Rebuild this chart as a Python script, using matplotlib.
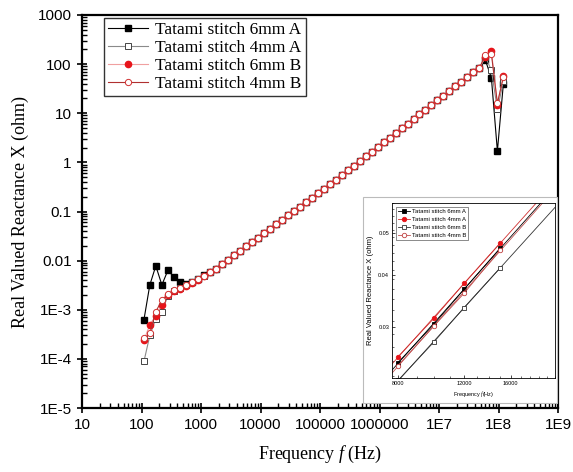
import numpy as np
import matplotlib
matplotlib.use("Agg")
import matplotlib.pyplot as plt
from matplotlib.ticker import LogLocator, NullFormatter, FixedLocator
from matplotlib.patches import Rectangle

plt.rcParams['mathtext.fontset'] = 'custom'
plt.rcParams['mathtext.it'] = 'Liberation Serif:italic'
plt.rcParams['mathtext.rm'] = 'Liberation Serif'

# ---------------- data ----------------
freq = [110, 138, 174, 220, 277, 350, 441, 556, 701, 884,
        1110, 1410, 1770, 2230, 2820, 3550, 4480, 5650, 7130, 8980,
        11300, 14300, 18000, 22700, 28600, 36100, 45500, 57400, 72400, 91300,
        115000, 145000, 183000, 231000, 291000, 367000, 463000, 584000, 736000, 928000,
        1.17e6, 1.475e6, 1.86e6, 2.35e6, 2.96e6, 3.73e6, 4.70e6, 5.93e6, 7.48e6, 9.43e6,
        1.189e7, 1.499e7, 1.890e7, 2.384e7, 3.006e7, 3.790e7, 4.779e7, 6.027e7, 7.600e7,
        9.58e7, 1.208e8]

# low-frequency part (first 12 points), per series
head_6mmA = [6.3e-4, 3.2e-3, 7.8e-3, 3.2e-3, 6.3e-3, 4.7e-3, 3.6e-3, 3.3e-3, 3.7e-3, 4.3e-3, 5.0e-3, 5.9e-3]
head_4mmA = [8.9e-5, 3.0e-4, 6.6e-4, 9.2e-4, 1.9e-3, 2.4e-3, 2.8e-3, 3.2e-3, 3.6e-3, 4.2e-3, 4.9e-3, 5.8e-3]
head_6mmB = [2.37e-4, 5.0e-4, 7.6e-4, 1.26e-3, 1.96e-3, 2.36e-3, 2.7e-3, 3.1e-3, 3.5e-3, 4.1e-3, 4.8e-3, 5.8e-3]
head_4mmB = [2.6e-4, 3.3e-4, 9.2e-4, 1.55e-3, 2.1e-3, 2.5e-3, 2.8e-3, 3.2e-3, 3.6e-3, 4.2e-3, 4.9e-3, 5.8e-3]

# common middle part (all four series overlap)
mid_common = [0.0069, 0.0085, 0.0105, 0.0129, 0.0158, 0.0195, 0.024, 0.0295, 0.0363, 0.0447,
              0.055, 0.0676, 0.0832, 0.102, 0.126, 0.155, 0.191, 0.234, 0.288, 0.355,
              0.442, 0.55, 0.684, 0.851, 1.06, 1.32, 1.64, 2.04, 2.54, 3.16,
              3.94, 4.90, 6.10, 7.59, 9.44, 11.7, 14.6, 18.2, 22.6, 28.2,
              35.1, 43.7, 54.3, 67.6, 84.1]

# resonance part (last 4 points), per series
tail_6mmA = [120, 52, 1.7, 40]
tail_4mmA = [140, 75, 12, 45]
tail_6mmB = [140, 185, 15, 57]
tail_4mmB = [150, 160, 16, 55]

x_ticks = [10, 100, 1000, 10000, 100000, 1000000, 1e7, 1e8, 1e9]
x_labels = ["10", "100", "1000", "10000", "100000", "1000000", "1E7", "1E8", "1E9"]
y_ticks = [1e-5, 1e-4, 1e-3, 0.01, 0.1, 1, 10, 100, 1000]
y_labels = ["1E-5", "1E-4", "1E-3", "0.01", "0.1", "1", "10", "100", "1000"]

# inset data
ins_freq = [8000, 10000, 12000, 15000]
ins_6mmA = [0.0248, 0.0306, 0.0369, 0.0462]
ins_4mmA = [0.0256, 0.0316, 0.0381, 0.0475]
ins_6mmB = [0.0225, 0.0278, 0.0334, 0.0415]
ins_4mmB = [0.0244, 0.0303, 0.0361, 0.0458]

# ---------------- figure ----------------
fig = plt.figure(figsize=(5.73, 4.72), dpi=100)
ax = fig.add_axes([82/573, 1-408/472, (558-82)/573, (408-15)/472])

serif = ["Liberation Serif", "DejaVu Serif"]
sans = ["Liberation Sans", "DejaVu Sans"]

s6A = head_6mmA + mid_common + tail_6mmA
s4A = head_4mmA + mid_common + tail_4mmA
s6B = head_6mmB + mid_common + tail_6mmB
s4B = head_4mmB + mid_common + tail_4mmB

ax.plot(freq, s6A, '-', color='black', lw=0.8, marker='s', ms=4,
        mfc='black', mec='black', label='Tatami stitch 6mm A', zorder=3)
ax.plot(freq, s4A, '-', color='#8a8a8a', lw=0.8, marker='s', ms=4,
        mfc='white', mec='#444444', mew=0.7, label='Tatami stitch 4mm A', zorder=3)
ax.plot(freq, s6B, '-', color='#f0a0a0', lw=0.8, marker='o', ms=4.5,
        mfc='#e8141a', mec='#e8141a', label='Tatami stitch 6mm B', zorder=4)
ax.plot(freq, s4B, '-', color='#b03030', lw=0.8, marker='o', ms=4.5,
        mfc='white', mec='#d03030', mew=0.7, label='Tatami stitch 4mm B', zorder=5)

ax.set_xscale('log')
ax.set_yscale('log')
ax.set_xlim(10, 1e9)
ax.set_ylim(1e-5, 1000)
ax.set_xticks(x_ticks)
ax.set_xticklabels(x_labels, fontfamily=sans, fontsize=11)
ax.set_yticks(y_ticks)
ax.set_yticklabels(y_labels, fontfamily=sans, fontsize=11)
ax.xaxis.set_minor_locator(LogLocator(base=10, subs=np.arange(2, 10), numticks=100))
ax.yaxis.set_minor_locator(LogLocator(base=10, subs=np.arange(2, 10), numticks=100))
ax.xaxis.set_minor_formatter(NullFormatter())
ax.yaxis.set_minor_formatter(NullFormatter())
ax.tick_params(which='major', direction='inout', length=7, width=1.2, pad=4)
ax.tick_params(which='minor', direction='in', length=3.5, width=1.0)
for sp in ax.spines.values():
    sp.set_linewidth(1.6)

ax.set_xlabel("Frequency $f$ (Hz)", fontfamily=serif, fontsize=13, labelpad=8)
ax.set_ylabel("Real Valued Reactance X (ohm)", fontfamily=serif, fontsize=13, labelpad=6)

leg = ax.legend(loc='upper left', bbox_to_anchor=(0.04, 1.0), prop={'family': serif, 'size': 12.5},
                frameon=True, fancybox=False, borderpad=0.25, labelspacing=0.1,
                handlelength=2.3, handletextpad=0.4, borderaxespad=0.15)
leg.get_frame().set_edgecolor('black')
leg.get_frame().set_linewidth(1.0)

# ---------------- inset ----------------
fig.patches.append(Rectangle((363/573, 1-403/472), (557-363)/573, (403-197)/472,
                             transform=fig.transFigure, fill=True, facecolor='white',
                             edgecolor='#bbbbbb', lw=0.8, zorder=5))
iax = fig.add_axes([392/573, 1-378/472, (555-392)/573, (378-203)/472], zorder=6)
iax.set_xscale('log')
iax.set_yscale('log')
xl = (7710, 21000)
iax.set_xlim(*xl)
iax.set_ylim(0.0228, 0.059)

styles = [
    (ins_6mmA, dict(color='black', marker='s', mfc='black', mec='black'), 'Tatami stitch 6mm A'),
    (ins_4mmA, dict(color='#d03030', marker='o', mfc='#e8141a', mec='#e8141a'), 'Tatami stitch 4mm A'),
    (ins_6mmB, dict(color='#333333', marker='s', mfc='white', mec='#333333'), 'Tatami stitch 6mm B'),
    (ins_4mmB, dict(color='#c05050', marker='o', mfc='white', mec='#c04040'), 'Tatami stitch 4mm B'),
]
xs = np.array(xl)
for vals, st, lab in styles:
    p = np.polyfit(np.log10(ins_freq), np.log10(vals), 1)
    iax.plot(xs, 10**np.polyval(p, np.log10(xs)), '-', color=st['color'], lw=0.6)
    iax.plot(ins_freq, vals, linestyle='-', lw=0.6, color=st['color'], marker=st['marker'],
             ms=3.2, mfc=st['mfc'], mec=st['mec'], mew=0.6, label=lab)

iax.set_xticks([8000, 12000, 16000])
iax.set_xticklabels(["8000", "12000", "16000"], fontsize=4, fontfamily=sans)
iax.set_yticks([0.03, 0.04, 0.05])
iax.set_yticklabels(["0.03", "0.04", "0.05"], fontsize=4, fontfamily=sans)
iax.xaxis.set_minor_locator(FixedLocator(np.arange(8000, 21001, 1000)))
iax.yaxis.set_minor_locator(FixedLocator(np.arange(0.023, 0.0591, 0.002)))
iax.xaxis.set_minor_formatter(NullFormatter())
iax.yaxis.set_minor_formatter(NullFormatter())
iax.tick_params(which='major', direction='in', length=2.5, width=0.5, pad=2)
iax.tick_params(which='minor', direction='in', length=1.5, width=0.4)
for sp in iax.spines.values():
    sp.set_linewidth(0.6)
iax.set_xlabel("Frequency $f$(Hz)", fontsize=4, fontfamily=sans, labelpad=2)
iax.set_ylabel("Real Valued Reactance X (ohm)", fontsize=5.5, fontfamily=sans, labelpad=3)
il = iax.legend(loc='upper left', prop={'family': sans, 'size': 4.3}, frameon=True, fancybox=False,
                borderpad=0.4, labelspacing=0.45, handlelength=2, handletextpad=0.3, borderaxespad=0.6)
il.get_frame().set_edgecolor('black')
il.get_frame().set_linewidth(0.4)

fig.savefig("out.png", dpi=100)
